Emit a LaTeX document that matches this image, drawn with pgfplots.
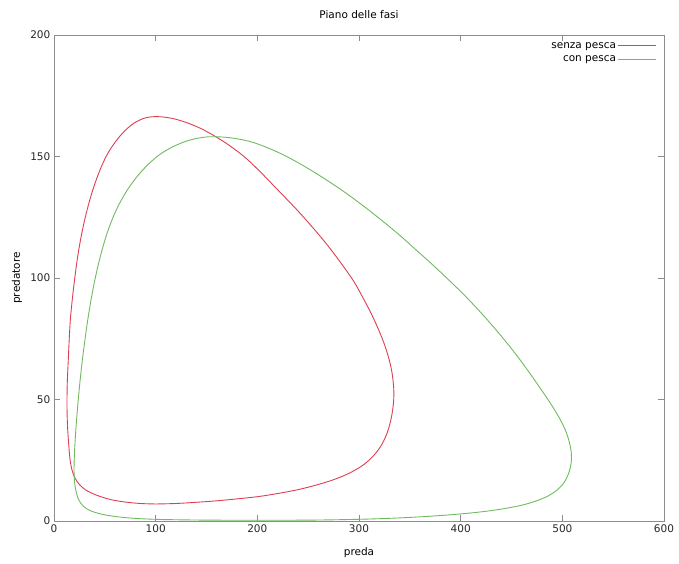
\documentclass[border=0pt]{standalone}
\usepackage{pgfplots}
\pgfplotsset{compat=1.18}
\usepackage{fontspec}
\setmainfont{DejaVu Sans}
\definecolor{cred}{RGB}{222,62,82}
\definecolor{cgreen}{RGB}{112,186,96}
\definecolor{framec}{RGB}{140,140,140}
\begin{document}
\fontsize{10.5bp}{12.5bp}\selectfont
\begin{tikzpicture}[x=1bp,y=1bp]
\path (0,0) rectangle (679,564);
\begin{axis}[
  at={(54bp,43bp)}, anchor=south west,
  width=610bp, height=486bp, scale only axis,
  xmin=0, xmax=600, ymin=0, ymax=200,
  xtick={0,100,...,600}, ytick={0,50,...,200},
  tick align=inside, major tick length=6bp,
  axis line style={framec, line width=0.8bp},
  tick style={framec, line width=0.6bp},
  /pgf/number format/assume math mode=true,
  ticklabel style={font=\fontsize{10.5bp}{12.5bp}\selectfont, text=black!85},
  title={Piano delle fasi}, xlabel={preda}, ylabel={predatore},
  every axis title/.style={at={(axis description cs:0.5,1)}, anchor=center, yshift=20bp, font=\fontsize{10.5bp}{12.5bp}\selectfont},
  every axis x label/.style={at={(axis description cs:0.5,0)}, anchor=center, yshift=-32bp, font=\fontsize{10.5bp}{12.5bp}\selectfont},
  every axis y label/.style={at={(axis description cs:0,0.5)}, anchor=center, xshift=-37bp, rotate=90, font=\fontsize{10.5bp}{12.5bp}\selectfont},
  legend style={draw=none, fill=none, at={(1,1)}, anchor=north east, xshift=-4bp, yshift=-3bp,
    font=\fontsize{10.5bp}{12.5bp}\selectfont, row sep=2.5bp},
  legend cell align=right, legend plot pos=right,
]
\addplot[cred, line width=0.9bp, smooth, tension=0.55,
  legend image code/.code={\draw[cred, line width=0.8bp] (3bp,0bp) -- (41bp,0bp);}] coordinates {
(100,7) (120,7.2) (140,7.7) (160,8.3) (180,9.1) (200,10) (220,11.3) (240,12.9) (258,14.8) (275,17) (290,19.6) (303,22.7) (313,26.3) (321,30.5) (327,35.5) (331,41) (333.5,47) (334.3,53) (333,59.5) (330.5,65) (326,71.5) (320,78) (313,84.5) (305,91) (295,98.5) (282,106.3) (268,114) (254,121) (238.6,128.2) (220,136.3) (202.6,143.8) (188,149.6) (172,154.7) (158,158.4) (144,161.6) (130,164) (116,165.7) (102,166.4) (90,165.9) (79,163.8) (69,160.3) (60,155.8) (52,150.6) (45,144.2) (39,137.3) (34,130.3) (29.5,122.7) (26,115.5) (23,108) (20.5,100.2) (18.2,92) (16.2,83.5) (15,75) (13.9,65) (13,56) (12.8,47) (13.3,39) (14.4,32) (15.6,26) (17.5,21.3) (20.5,17.8) (25,15) (31,12.8) (38,11.3) (46,10) (57,8.7) (70,7.8) (85,7.2) (100,7)
};
\addlegendentry{senza pesca}
\addplot[cgreen, line width=0.9bp, smooth, tension=0.55,
  legend image code/.code={\draw[cgreen, line width=0.8bp] (3bp,0bp) -- (41bp,0bp);}] coordinates {
(107,0.6) (140,0.4) (180,0.3) (220,0.3) (260,0.4) (300,0.7) (330,1.1) (360,1.7) (385,2.4) (405,3.1) (425,4) (443,5.1) (460,6.5) (474,8.2) (486,10.3) (495,12.8) (502,16) (506.5,20) (508.7,24) (508.7,28.5) (506,33.8) (502,38.3) (496,43.2) (488,48.6) (479,54.2) (469,60.2) (457,67.1) (445,73.5) (432,80) (418,86.6) (403,93.2) (388,99.3) (372,105.6) (356,111.6) (340,117.6) (323,123.5) (306,129.1) (290,134.1) (274,138.7) (258,143) (242,147) (226,150.6) (210,153.6) (195,155.9) (180,157.3) (166,158) (152,158.1) (140,157.4) (128,156) (116,153.8) (104,150.8) (93,146.9) (83,142.4) (74,137.4) (66,131.9) (59,125.9) (53,119.4) (48,112.6) (43.5,105.4) (39.5,97.8) (36,90) (33,82.2) (30.5,74.7) (28.1,67) (26,59.2) (24.2,51.5) (22.6,43.7) (21.2,35.9) (20.2,28.4) (19.7,22) (20,17) (21.3,13) (24,9) (29,6) (36,4.2) (45,3) (56,2.1) (70,1.4) (87,0.9) (107,0.6)
};
\addlegendentry{con pesca}
\end{axis}
\end{tikzpicture}
\end{document}
